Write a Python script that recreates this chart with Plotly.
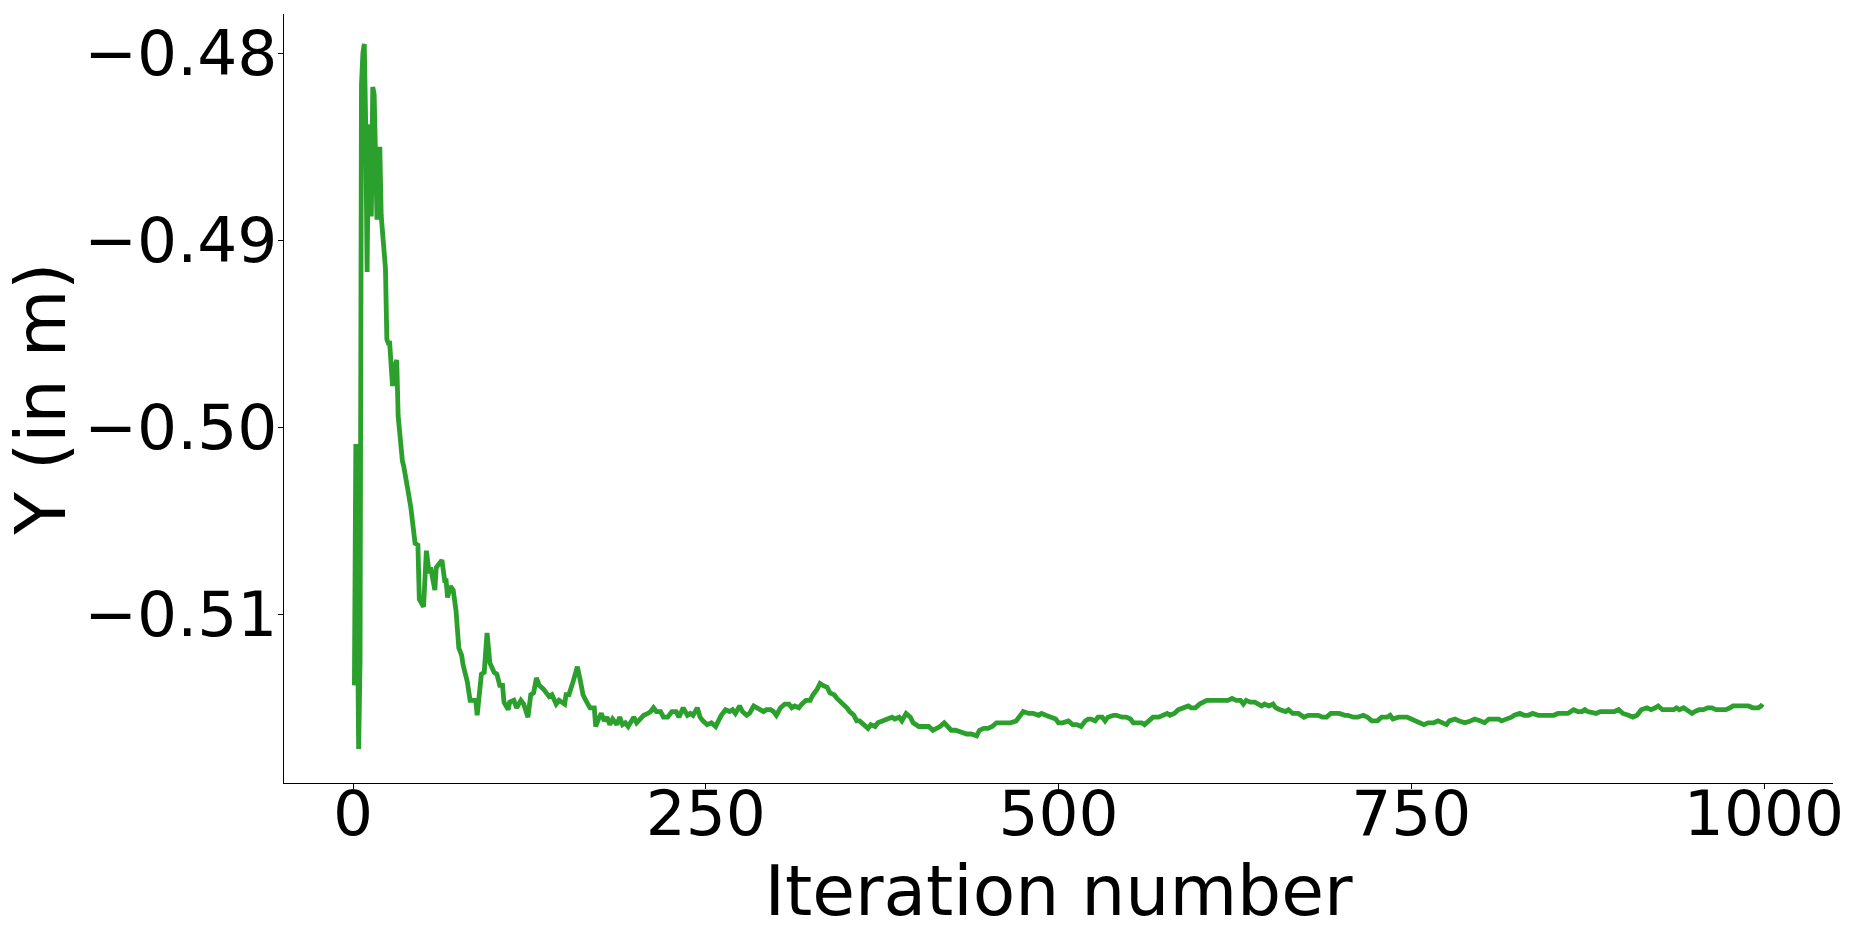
import plotly.graph_objects as go

# Iteration numbers and Y values (in m)
iteration = [
    1, 2, 3, 4, 5, 6, 7, 8, 9, 10, 11, 12, 13, 14, 15, 16, 17, 18, 19, 20,
    21, 22, 23, 24, 25, 26, 27, 28, 29, 30, 31, 32, 33, 34, 35, 36, 37, 38, 39, 41,
    43, 44, 46, 47, 50, 52, 54, 55, 58, 59, 61, 63, 65, 66, 67, 69, 71, 73, 75, 77,
    78, 81, 83, 87, 88, 90, 91, 93, 95, 96, 97, 100, 102, 104, 106, 107, 110, 111, 114, 116,
    119, 121, 124, 126, 128, 130, 132, 135, 137, 139, 141, 144, 146, 150, 151, 153, 156, 159, 161, 163,
    165, 168, 171, 172, 174, 176, 178, 180, 182, 184, 187, 189, 191, 193, 195, 198, 199, 201, 204, 206,
    209, 211, 213, 215, 218, 220, 223, 226, 229, 231, 234, 237, 239, 241, 244, 246, 248, 251, 254, 257,
    259, 261, 264, 267, 269, 271, 274, 276, 279, 281, 284, 287, 291, 293, 296, 298, 300, 303, 306, 309,
    311, 313, 316, 318, 321, 324, 326, 329, 331, 333, 336, 338, 341, 343, 346, 348, 350, 352, 355, 357,
    359, 362, 365, 367, 370, 372, 375, 378, 382, 384, 387, 389, 392, 395, 397, 401, 404, 408, 411, 414,
    416, 419, 421, 424, 427, 431, 433, 435, 438, 442, 444, 447, 450, 453, 456, 460, 463, 466, 470, 473,
    475, 479, 482, 486, 488, 491, 495, 498, 500, 503, 507, 510, 513, 516, 519, 521, 523, 526, 528, 531,
    533, 535, 539, 541, 545, 548, 551, 553, 556, 559, 561, 564, 567, 571, 574, 577, 579, 582, 585, 589,
    592, 594, 597, 600, 603, 605, 609, 611, 614, 617, 620, 623, 626, 629, 631, 633, 636, 639, 641, 644,
    646, 649, 652, 654, 657, 661, 663, 666, 670, 674, 677, 681, 684, 687, 690, 693, 696, 699, 703, 705,
    709, 712, 716, 719, 722, 726, 729, 733, 735, 737, 741, 744, 747, 750, 753, 756, 759, 762, 766, 769,
    773, 775, 777, 781, 784, 788, 792, 795, 799, 802, 805, 808, 812, 814, 818, 821, 823, 827, 830, 833,
    836, 840, 843, 847, 851, 854, 858, 861, 865, 868, 871, 873, 875, 879, 881, 884, 887, 891, 894, 897,
    900, 904, 907, 910, 913, 917, 920, 923, 925, 928, 932, 936, 938, 940, 943, 945, 949, 951, 954, 957,
    960, 963, 966, 970, 973, 976, 978, 982, 985, 989, 992, 996, 998, 999,
]

y_value = [
    -0.5138, -0.5009, -0.5090, -0.5172, -0.5125, -0.4817, -0.4800, -0.4795, -0.4838, -0.4917,
    -0.4838, -0.4886, -0.4886, -0.4818, -0.4822, -0.4860, -0.4889, -0.4870, -0.4850, -0.4887,
    -0.4896, -0.4905, -0.4915, -0.4953, -0.4955, -0.4955, -0.4970, -0.4978, -0.4969, -0.4966,
    -0.4964, -0.4994, -0.5004, -0.5010, -0.5018, -0.5021, -0.5027, -0.5030, -0.5034, -0.5043,
    -0.5055, -0.5062, -0.5063, -0.5092, -0.5096, -0.5066, -0.5078, -0.5075, -0.5087, -0.5075,
    -0.5073, -0.5071, -0.5082, -0.5082, -0.5091, -0.5085, -0.5087, -0.5098, -0.5118, -0.5122,
    -0.5127, -0.5136, -0.5146, -0.5146, -0.5154, -0.5140, -0.5132, -0.5131, -0.5110, -0.5118,
    -0.5126, -0.5131, -0.5132, -0.5138, -0.5138, -0.5147, -0.5151, -0.5147, -0.5146, -0.5150,
    -0.5146, -0.5148, -0.5155, -0.5143, -0.5142, -0.5134, -0.5138, -0.5140, -0.5142, -0.5144,
    -0.5143, -0.5148, -0.5146, -0.5148, -0.5143, -0.5143, -0.5136, -0.5128, -0.5135, -0.5143,
    -0.5146, -0.5150, -0.5150, -0.5160, -0.5156, -0.5153, -0.5157, -0.5155, -0.5159, -0.5156,
    -0.5159, -0.5155, -0.5159, -0.5158, -0.5160, -0.5157, -0.5155, -0.5158, -0.5156, -0.5154,
    -0.5153, -0.5152, -0.5150, -0.5152, -0.5152, -0.5155, -0.5155, -0.5152, -0.5152, -0.5155,
    -0.5150, -0.5154, -0.5153, -0.5154, -0.5150, -0.5155, -0.5157, -0.5159, -0.5158, -0.5160,
    -0.5157, -0.5154, -0.5151, -0.5152, -0.5151, -0.5153, -0.5149, -0.5152, -0.5154, -0.5153,
    -0.5149, -0.5150, -0.5152, -0.5151, -0.5151, -0.5152, -0.5154, -0.5150, -0.5148, -0.5148,
    -0.5150, -0.5149, -0.5150, -0.5148, -0.5146, -0.5146, -0.5143, -0.5140, -0.5137, -0.5138,
    -0.5139, -0.5142, -0.5143, -0.5145, -0.5147, -0.5148, -0.5150, -0.5152, -0.5154, -0.5157,
    -0.5157, -0.5159, -0.5161, -0.5159, -0.5160, -0.5158, -0.5157, -0.5156, -0.5155, -0.5156,
    -0.5155, -0.5157, -0.5153, -0.5155, -0.5158, -0.5160, -0.5160, -0.5160, -0.5162, -0.5161,
    -0.5160, -0.5158, -0.5160, -0.5162, -0.5162, -0.5163, -0.5164, -0.5164, -0.5164, -0.5165,
    -0.5162, -0.5161, -0.5161, -0.5160, -0.5158, -0.5158, -0.5158, -0.5158, -0.5157, -0.5154,
    -0.5152, -0.5153, -0.5153, -0.5154, -0.5153, -0.5154, -0.5155, -0.5156, -0.5158, -0.5158,
    -0.5157, -0.5159, -0.5159, -0.5160, -0.5157, -0.5156, -0.5156, -0.5157, -0.5155, -0.5155,
    -0.5157, -0.5155, -0.5154, -0.5154, -0.5155, -0.5155, -0.5156, -0.5158, -0.5158, -0.5158,
    -0.5159, -0.5157, -0.5155, -0.5155, -0.5154, -0.5153, -0.5154, -0.5153, -0.5151, -0.5150,
    -0.5149, -0.5150, -0.5150, -0.5148, -0.5147, -0.5146, -0.5146, -0.5146, -0.5146, -0.5146,
    -0.5146, -0.5145, -0.5146, -0.5146, -0.5148, -0.5146, -0.5147, -0.5147, -0.5148, -0.5149,
    -0.5148, -0.5149, -0.5148, -0.5150, -0.5151, -0.5152, -0.5151, -0.5153, -0.5153, -0.5155,
    -0.5154, -0.5154, -0.5154, -0.5155, -0.5155, -0.5153, -0.5153, -0.5153, -0.5154, -0.5154,
    -0.5155, -0.5155, -0.5154, -0.5155, -0.5157, -0.5157, -0.5155, -0.5155, -0.5154, -0.5156,
    -0.5155, -0.5155, -0.5155, -0.5156, -0.5157, -0.5158, -0.5159, -0.5158, -0.5158, -0.5157,
    -0.5158, -0.5159, -0.5157, -0.5156, -0.5157, -0.5158, -0.5157, -0.5156, -0.5157, -0.5158,
    -0.5156, -0.5156, -0.5156, -0.5157, -0.5156, -0.5155, -0.5154, -0.5153, -0.5154, -0.5154,
    -0.5153, -0.5154, -0.5154, -0.5154, -0.5154, -0.5153, -0.5153, -0.5153, -0.5151, -0.5152,
    -0.5152, -0.5151, -0.5152, -0.5153, -0.5153, -0.5152, -0.5152, -0.5152, -0.5152, -0.5151,
    -0.5153, -0.5154, -0.5155, -0.5154, -0.5151, -0.5150, -0.5151, -0.5150, -0.5149, -0.5151,
    -0.5151, -0.5151, -0.5150, -0.5151, -0.5150, -0.5151, -0.5153, -0.5152, -0.5151, -0.5151,
    -0.5150, -0.5150, -0.5151, -0.5151, -0.5151, -0.5150, -0.5149, -0.5149, -0.5149, -0.5149,
    -0.5150, -0.5150, -0.5149, -0.5148,
]

x_tick_values = [0, 250, 500, 750, 1000]
x_tick_labels = ["0", "250", "500", "750", "1000"]
y_tick_values = [-0.51, -0.50, -0.49, -0.48]
y_tick_labels = ["\u22120.51", "\u22120.50", "\u22120.49", "\u22120.48"]

x_title = "Iteration number"
y_title = "Y (in m)"

FONT = "DejaVu Sans"
TICK_SIZE = 63
TITLE_SIZE = 69.5

fig = go.Figure()
fig.add_trace(go.Scatter(
    x=iteration,
    y=y_value,
    mode="lines",
    line=dict(color="#2ca02c", width=4.8),
    showlegend=False,
    hoverinfo="x+y",
))

fig.update_layout(
    template="none",
    width=1854,
    height=935,
    margin=dict(l=284, r=21, t=14, b=152, pad=0),
    paper_bgcolor="white",
    plot_bgcolor="white",
    font=dict(family=FONT, color="black", size=TICK_SIZE),
    showlegend=False,
)

fig.update_xaxes(
    range=[-48.9, 1048.9],
    automargin=False,
    tickmode="array",
    tickvals=x_tick_values,
    ticktext=x_tick_labels,
    ticks="outside",
    ticklen=5,
    tickwidth=1.1,
    tickcolor="black",
    tickfont=dict(family=FONT, size=TICK_SIZE, color="black"),
    ticklabelstandoff=-30,
    showline=True,
    linecolor="black",
    linewidth=1.1,
    showgrid=False,
    zeroline=False,
    mirror=False,
    title=dict(text=x_title, font=dict(family=FONT, size=TITLE_SIZE, color="black"), standoff=4),
)

fig.update_yaxes(
    range=[-0.51902, -0.47790],
    automargin=False,
    tickmode="array",
    tickvals=y_tick_values,
    ticktext=y_tick_labels,
    ticks="outside",
    ticklen=5,
    tickwidth=1.1,
    tickcolor="black",
    tickfont=dict(family=FONT, size=TICK_SIZE, color="black"),
    ticklabelstandoff=-12,
    showline=True,
    linecolor="black",
    linewidth=1.1,
    showgrid=False,
    zeroline=False,
    mirror=False,
    title=dict(text=y_title, font=dict(family=FONT, size=TITLE_SIZE, color="black"), standoff=14),
)

fig.write_html(
    "out.html",
    config={"displayModeBar": False},
    post_script="document.body.style.margin='0';document.body.style.padding='0';",
)
